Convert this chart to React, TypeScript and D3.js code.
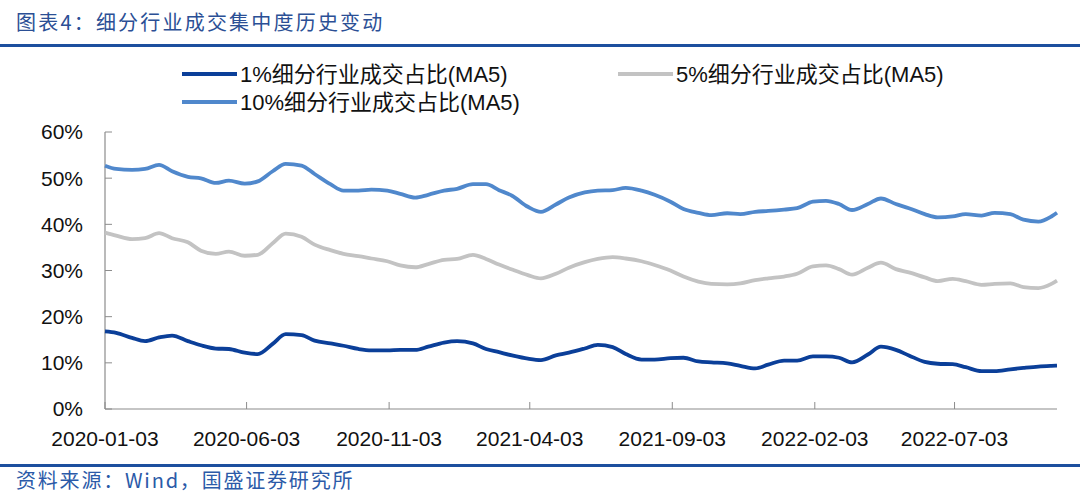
import { useEffect, useRef } from "react";
import * as d3 from "d3";

// 日期（半月取样）
const dates = [
  "2020-01-03", "2020-01-15", "2020-02-01", "2020-02-15", "2020-03-01", "2020-03-15",
  "2020-04-01", "2020-04-15", "2020-05-01", "2020-05-15", "2020-06-01", "2020-06-15",
  "2020-07-01", "2020-07-15", "2020-08-01", "2020-08-15", "2020-09-01", "2020-09-15",
  "2020-10-01", "2020-10-15", "2020-11-01", "2020-11-15", "2020-12-01", "2020-12-15",
  "2021-01-01", "2021-01-15", "2021-02-01", "2021-02-15", "2021-03-01", "2021-03-15",
  "2021-04-01", "2021-04-15", "2021-05-01", "2021-05-15", "2021-06-01", "2021-06-15",
  "2021-07-01", "2021-07-15", "2021-08-01", "2021-08-15", "2021-09-01", "2021-09-15",
  "2021-10-01", "2021-10-15", "2021-11-01", "2021-11-15", "2021-12-01", "2021-12-15",
  "2022-01-01", "2022-01-15", "2022-02-01", "2022-02-15", "2022-03-01", "2022-03-15",
  "2022-04-01", "2022-04-15", "2022-05-01", "2022-05-15", "2022-06-01", "2022-06-15",
  "2022-07-01", "2022-07-15", "2022-08-01", "2022-08-15", "2022-09-01", "2022-09-15",
  "2022-10-01", "2022-10-15", "2022-10-21",
];

// 1%细分行业成交占比(MA5)
const top1 = [
  16.8, 16.5, 15.4, 14.7, 15.5, 15.9, 14.7, 13.8, 13.1, 13.0, 12.2, 11.9,
  14.1, 16.2, 16.0, 14.8, 14.2, 13.7, 13.0, 12.7, 12.7, 12.8, 12.8, 13.5,
  14.4, 14.7, 14.2, 13.0, 12.3, 11.6, 10.9, 10.6, 11.6, 12.2, 13.1, 13.9,
  13.4, 11.9, 10.7, 10.7, 11.0, 11.1, 10.3, 10.1, 9.9, 9.35, 8.8, 9.6,
  10.5, 10.5, 11.4, 11.4, 11.1, 10.1, 11.8, 13.5, 12.8, 11.6, 10.2, 9.8,
  9.7, 9.05, 8.2, 8.2, 8.6, 8.9, 9.2, 9.35, 9.4,
];

// 5%细分行业成交占比(MA5)
const top5 = [
  38.2, 37.55, 36.8, 37.0, 38.1, 37.0, 36.1, 34.3, 33.6, 34.1, 33.2, 33.4,
  35.9, 38.0, 37.3, 35.6, 34.4, 33.6, 33.1, 32.6, 32.0, 31.1, 30.7, 31.4,
  32.3, 32.5, 33.4, 32.5, 31.3, 30.2, 29.0, 28.3, 29.3, 30.6, 31.8, 32.5,
  32.9, 32.6, 32.0, 31.2, 30.0, 28.7, 27.6, 27.1, 27.0, 27.2, 27.9, 28.3,
  28.7, 29.3, 30.9, 31.1, 30.3, 29.1, 30.6, 31.7, 30.3, 29.6, 28.5, 27.7,
  28.2, 27.7, 26.9, 27.1, 27.2, 26.4, 26.2, 27.1, 27.8,
];

// 10%细分行业成交占比(MA5)
const top10 = [
  52.7, 52.0, 51.8, 52.0, 52.9, 51.5, 50.3, 49.95, 48.96, 49.46, 48.8, 49.3,
  51.5, 53.1, 52.7, 50.9, 48.7, 47.3, 47.3, 47.5, 47.3, 46.6, 45.8, 46.4,
  47.3, 47.7, 48.7, 48.7, 47.4, 46.2, 43.8, 42.7, 44.3, 45.8, 46.9, 47.3,
  47.4, 47.9, 47.3, 46.4, 44.9, 43.3, 42.5, 42.0, 42.4, 42.2, 42.7, 42.9,
  43.2, 43.5, 44.9, 45.1, 44.4, 43.1, 44.4, 45.6, 44.4, 43.5, 42.2, 41.5,
  41.7, 42.2, 41.9, 42.5, 42.2, 41.0, 40.6, 41.7, 42.5,
];

const tickDates = [
  "2020-01-03", "2020-06-03", "2020-11-03", "2021-04-03",
  "2021-09-03", "2022-02-03", "2022-07-03",
];
const yTicks = [0, 10, 20, 30, 40, 50, 60];

const seriesNames = [
  "1%细分行业成交占比(MA5)",
  "5%细分行业成交占比(MA5)",
  "10%细分行业成交占比(MA5)",
];
const seriesColors = ["#0b3f99", "#c3c3c3", "#5088cc"];

const W = 1080;
const H = 500;
const FONT = "'Liberation Sans', 'Noto Sans CJK SC', sans-serif";
const CJK = "'Noto Sans CJK SC', sans-serif";

const App = () => {
  const svgRef = useRef<SVGSVGElement | null>(null);

  useEffect(() => {
    if (!svgRef.current) return;
    const svg = d3.select(svgRef.current);
    svg.selectAll("*").remove();

    const parse = d3.timeParse("%Y-%m-%d");
    const dd = dates.map((s) => parse(s) as Date);
    const allSeries = [top1, top5, top10];

    // 比例尺
    const x = d3
      .scaleTime()
      .domain([dd[0], dd[dd.length - 1]])
      .range([105, 1057]);
    const y = d3.scaleLinear().domain([0, 60]).range([409, 132]);

    // 标题
    svg
      .append("text")
      .attr("x", 16)
      .attr("y", 30)
      .attr("font-family", CJK)
      .attr("font-size", 20)
      .attr("letter-spacing", 2.2)
      .attr("fill", "#2b4f95")
      .text("图表4：细分行业成交集中度历史变动");

    svg
      .append("rect")
      .attr("x", 0)
      .attr("y", 44)
      .attr("width", W)
      .attr("height", 3)
      .attr("fill", "#1c4f9e");

    // y轴
    const yAxis = svg.append("g").attr("transform", "translate(105,0)");
    yAxis
      .append("line")
      .attr("y1", y(0))
      .attr("y2", y(60))
      .attr("stroke", "#8c8c8c")
      .attr("stroke-width", 1.2);
    yAxis
      .selectAll("line.tick")
      .data(yTicks)
      .join("line")
      .attr("class", "tick")
      .attr("x1", 0)
      .attr("x2", 7)
      .attr("y1", (d) => y(d))
      .attr("y2", (d) => y(d))
      .attr("stroke", "#8c8c8c");
    yAxis
      .selectAll("text")
      .data(yTicks)
      .join("text")
      .attr("x", -22)
      .attr("y", (d) => y(d))
      .attr("dy", "0.35em")
      .attr("text-anchor", "end")
      .attr("font-family", FONT)
      .attr("font-size", 21)
      .attr("fill", "#111")
      .text((d) => `${d}%`);

    // x轴
    const xAxis = svg.append("g").attr("transform", `translate(0,${y(0)})`);
    xAxis
      .append("line")
      .attr("x1", 105)
      .attr("x2", 1057)
      .attr("stroke", "#8c8c8c")
      .attr("stroke-width", 1.2);
    const tds = tickDates.map((s) => parse(s) as Date);
    xAxis
      .selectAll("line.tick")
      .data(tds)
      .join("line")
      .attr("class", "tick")
      .attr("x1", (d) => x(d))
      .attr("x2", (d) => x(d))
      .attr("y1", 0)
      .attr("y2", -7)
      .attr("stroke", "#8c8c8c");
    xAxis
      .selectAll("text")
      .data(tickDates)
      .join("text")
      .attr("x", (_, i) => x(tds[i]))
      .attr("y", 37)
      .attr("text-anchor", "middle")
      .attr("font-family", FONT)
      .attr("font-size", 21)
      .attr("fill", "#111")
      .text((d) => d);

    // 折线
    const line = d3
      .line<number>()
      .x((_, i) => x(dd[i]))
      .y((d) => y(d))
      .curve(d3.curveMonotoneX);

    [1, 2, 0].forEach((k) => {
      svg
        .append("path")
        .datum(allSeries[k])
        .attr("fill", "none")
        .attr("stroke", seriesColors[k])
        .attr("stroke-width", 3.8)
        .attr("stroke-linejoin", "round")
        .attr("d", line);
    });

    // 图例
    const legendPos = [
      [182, 74],
      [618, 74],
      [182, 102],
    ];
    seriesNames.forEach((name, k) => {
      const [lx, ly] = legendPos[k];
      svg
        .append("line")
        .attr("x1", lx)
        .attr("x2", lx + 55)
        .attr("y1", ly)
        .attr("y2", ly)
        .attr("stroke", seriesColors[k])
        .attr("stroke-width", 4);
      svg
        .append("text")
        .attr("x", lx + 58)
        .attr("y", ly)
        .attr("dy", "0.35em")
        .attr("font-family", FONT)
        .attr("font-size", 22)
        .attr("fill", "#111")
        .text(name);
    });

    // 底部
    svg
      .append("rect")
      .attr("x", 0)
      .attr("y", 464)
      .attr("width", W)
      .attr("height", 3)
      .attr("fill", "#1c4f9e");
    svg
      .append("text")
      .attr("x", 16)
      .attr("y", 488)
      .attr("font-family", CJK)
      .attr("font-size", 20)
      .attr("letter-spacing", 1.8)
      .attr("fill", "#2b5aa8")
      .text("资料来源：Wind，国盛证券研究所");
  }, []);

  return (
    <div style={{ position: "absolute", left: 0, top: 0 }}>
      <svg ref={svgRef} width={W} height={H} style={{ display: "block", background: "#fff" }} />
    </div>
  );
};

export default App;
